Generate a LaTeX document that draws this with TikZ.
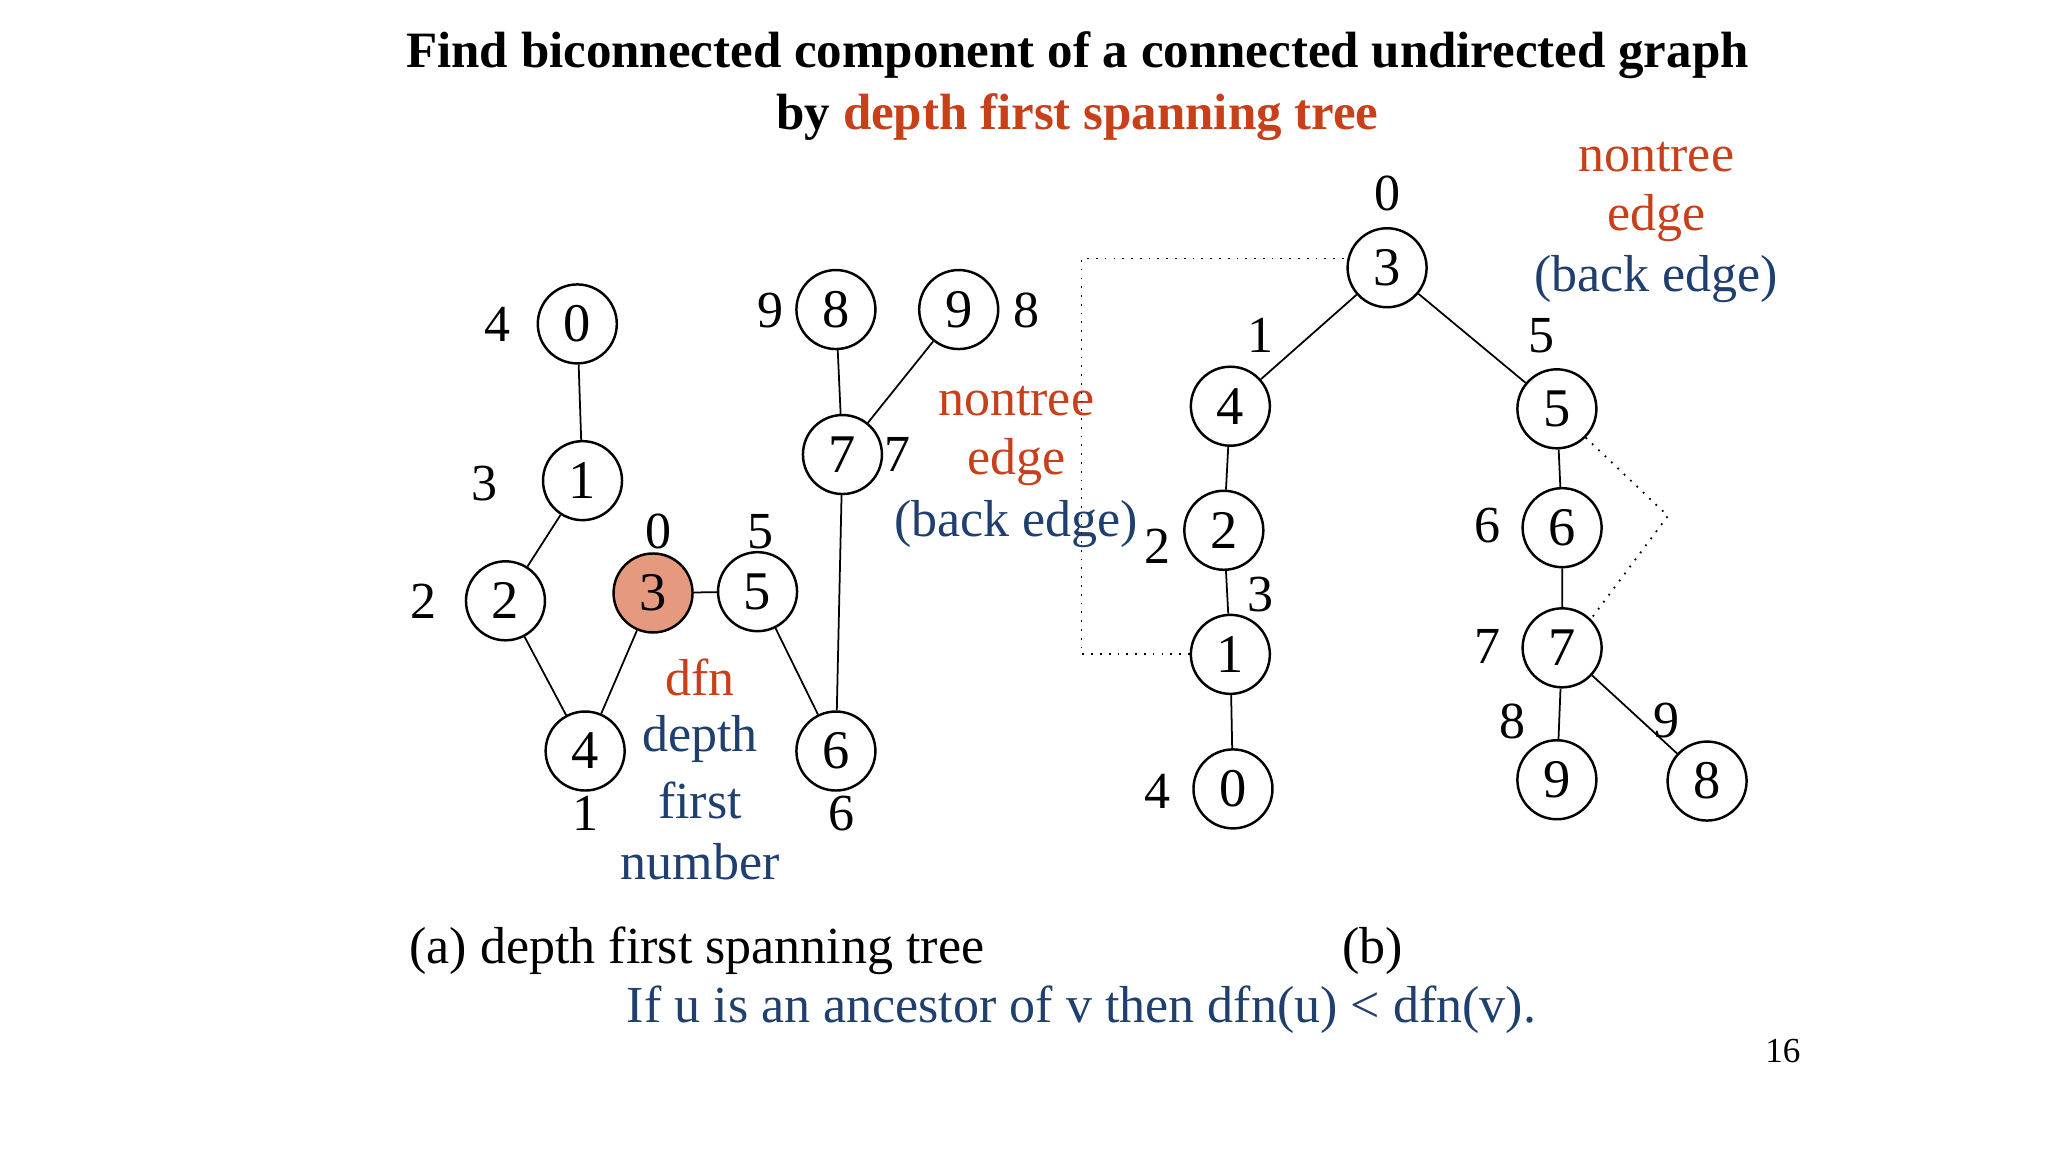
\documentclass[tikz,border=0pt]{standalone}
\usepackage{fontspec}
\setmainfont{Liberation Serif}
\definecolor{org}{HTML}{C8401A}
\definecolor{blu}{HTML}{1F3F6F}
\definecolor{sal}{HTML}{E59A80}
\begin{document}
\begin{tikzpicture}[x=0.01306cm,y=-0.01306cm,
 v/.style={circle,draw,line width=0.7pt,minimum size=0.79cm,inner sep=0pt,font=\fontsize{15.5}{15.5}\selectfont},
 t/.style={font=\fontsize{14.8}{14.8}\selectfont},
 e/.style={line width=0.5pt},
 d/.style={line width=0.5pt,dotted}]
\useasboundingbox (0,0) rectangle (1568,882);
\node[font=\bfseries\fontsize{14.5}{14.5}\selectfont] (ti1) at (825,42) {Find biconnected component of a connected undirected graph};
\node[font=\bfseries\fontsize{14.5}{14.5}\selectfont] (ti2) at (825,90) {by \textcolor{org}{depth first spanning tree}};
% left graph
\node[v] (L0) at (442,248) {0};
\node[v] (L1) at (446,368) {1};
\node[v] (L2) at (387,460) {2};
\node[v,fill=sal] (L3) at (500,454) {3};
\node[v] (L5) at (580,453) {5};
\node[v] (L4) at (448,575) {4};
\node[v] (L6) at (640,575) {6};
\node[v] (L7) at (645,348) {7};
\node[v] (L8) at (640,237) {8};
\node[v] (L9) at (734,237) {9};
\draw[e] (L0)--(L1) (L1)--(L2) (L2)--(L4) (L4)--(L3) (L3)--(L5) (L5)--(L6) (L6)--(L7) (L7)--(L8) (L7)--(L9);
\node[t] (a4) at (381,248) {4};
\node[t] (a3) at (371,370) {3};
\node[t] (a2) at (324,460) {2};
\node[t] (a0) at (504,407) {0};
\node[t] (a5) at (582,407) {5};
\node[t] (a1) at (448,623) {1};
\node[t] (a6) at (644,623) {6};
\node[t] (a7) at (687,348) {7};
\node[t] (a9) at (590,238) {9};
\node[t] (a8) at (786,238) {8};
\node[t,text=org] (n1) at (778,307) {nontree};
\node[t,text=org] (n2) at (778,354) {edge};
\node[t,text=blu] (n3) at (778,401) {(back edge)};
\node[t,text=org] (f1) at (536,519) {dfn};
\node[t,text=blu] (f2) at (536,566) {depth};
\node[t,text=blu] (f3) at (536,613) {first};
\node[t,text=blu] (f4) at (536,660) {number};
% right tree
\node[v] (R3) at (1062,205) {3};
\node[v] (R4) at (942,311) {4};
\node[v] (R2) at (937,406) {2};
\node[v] (R1) at (942,501) {1};
\node[v] (R0) at (944,604) {0};
\node[v] (R5) at (1192,313) {5};
\node[v] (R6) at (1196,404) {6};
\node[v] (R7) at (1196,496) {7};
\node[v] (R9) at (1192,597) {9};
\node[v] (R8) at (1307,598) {8};
\draw[e] (R3)--(R4) (R4)--(R2) (R2)--(R1) (R1)--(R0) (R3)--(R5) (R5)--(R6) (R6)--(R7) (R7)--(R9) (R7)--(R8);
\coordinate (c1) at (828,501);
\coordinate (c2) at (828,198);
\coordinate (c3) at (1277,395);
\draw[d] (R1.west)--(c1)--(c2)--(R3.west|-c2);
\draw[d] (R5.south east)--(c3)--(R7.north east);
\node[t] (b0) at (1062,148) {0};
\node[t] (b1) at (965,257) {1};
\node[t] (b5) at (1180,257) {5};
\node[t] (b2) at (886,418) {2};
\node[t] (b3) at (965,455) {3};
\node[t] (b4) at (886,606) {4};
\node[t] (b6) at (1139,402) {6};
\node[t] (b7) at (1139,495) {7};
\node[t] (b8) at (1158,552) {8};
\node[t] (b9) at (1276,552) {9};
\node[t,text=org] (m1) at (1268,120) {nontree};
\node[t,text=org] (m2) at (1268,167) {edge};
\node[t,text=blu] (m3) at (1268,214) {(back edge)};
\node[t,anchor=west] (ca) at (304,728) {(a) depth first spanning tree};
\node[t] (cb) at (1051,728) {(b)};
\node[t,text=blu] (rule) at (828,773) {If u is an ancestor of v then dfn(u) < dfn(v).};
\node[font=\fontsize{10}{10}\selectfont] (pg) at (1365,805) {16};
\end{tikzpicture}
\end{document}
